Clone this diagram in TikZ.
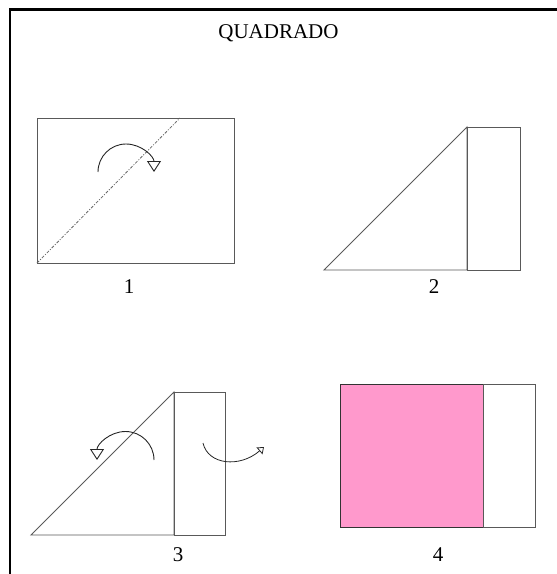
\documentclass[tikz,border=0pt]{standalone}
\usepackage{fontspec}
\setmainfont{Liberation Serif}
\usepackage{tikz}
\usetikzlibrary{arrows.meta}

\definecolor{foldpink}{HTML}{FF99CC}
\tikzset{
  fold/.style={draw=black!65, line width=0.9pt},
  crease/.style={draw=black!60, line width=0.8pt, dash pattern=on 3pt off 1.5pt on 1pt off 1.5pt},
  turn/.style={black!85, line width=0.9pt, -{Triangle[open, length=11pt, width=14pt]}},
  turnsmall/.style={black!85, line width=0.8pt, -{Triangle[open, length=6pt, width=9pt]}},
  steplabel/.style={font=\fontsize{21}{24}\selectfont, inner sep=0pt}
}

\begin{document}
\begin{tikzpicture}[x=1pt, y=-1pt]
  \useasboundingbox (0,0) rectangle (557,574);

  % Frame
  \draw[line width=2.5pt] (10,600) -- (10,9.5) -- (600,9.5);
  \node[steplabel] (title) at (278.5,33) {QUADRADO};

  % Step 1: sheet and diagonal crease
  \draw[fold] (37,118) rectangle (234,263);
  \draw[crease] (37,263) -- (180,118);
  \draw[turn] (98,172) arc[start angle=180, end angle=360, radius=28];
  \node[steplabel] (lab1) at (129,287) {1};

  % Step 2: folded triangle and strip
  \draw[fold] (324,270) -- (467,127) -- (467,270) -- cycle;
  \draw[fold] (467,127) rectangle (520,270);
  \node[steplabel] (lab2) at (434,287) {2};

  % Step 3: unfold and turn over
  \draw[fold] (31,535) -- (174,392) -- (174,535) -- cycle;
  \draw[fold] (174,392) rectangle (225,535);
  \draw[turn] (154,460) arc[start angle=0, end angle=-180, radius=28.5];
  \draw[turnsmall] (203,443) .. controls (208,465) and (240,468) .. (264,447);
  \node[steplabel] (lab3) at (178,555) {3};

  % Step 4: the square
  \draw[draw=black!80, line width=0.9pt, fill=foldpink] (340,384) rectangle (483,527);
  \draw[fold] (483,384) rectangle (535,527);
  \node[steplabel] (lab4) at (438,555) {4};
\end{tikzpicture}
\end{document}
